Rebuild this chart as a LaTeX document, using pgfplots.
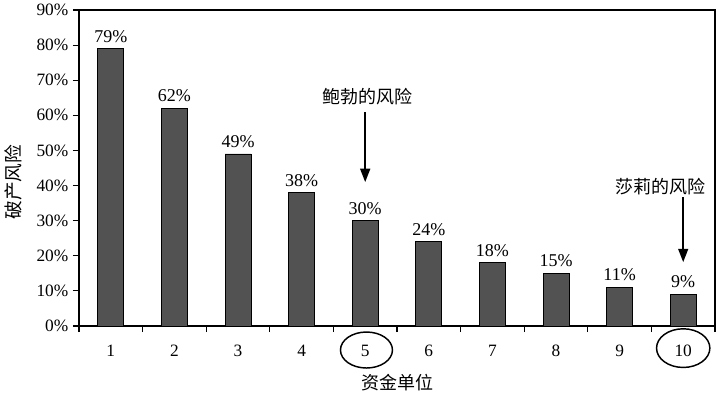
\documentclass[border=0pt]{standalone}
\usepackage{pgfplots}
\pgfplotsset{compat=1.18}
\usepackage{fontspec}
\setmainfont{Liberation Serif}
\newfontfamily\cjk{Noto Sans CJK SC}
\usetikzlibrary{arrows.meta}
\definecolor{barfill}{RGB}{82,82,82}
\begin{document}
\begin{tikzpicture}[x=1pt,y=1pt]
\path[use as bounding box] (-59.25pt,-53.25pt) rectangle (480.75pt,244.5pt);
\begin{axis}[
  at={(0,0)}, anchor=south west,
  scale only axis,
  width=477pt, height=237pt,
  xmin=0.5, xmax=10.5, ymin=0, ymax=90,
  axis line style={black, line width=0.8pt},
  xtick={1,...,10},
  major x tick style={draw=none},
  minor xtick={0.5,1.5,...,10.5},
  minor x tick style={black, line width=0.8pt},
  minor tick length=4.5pt,
  ytick={0,10,...,90},
  yticklabel={\pgfmathprintnumber{\tick}\%},
  y tick style={black, line width=0.8pt},
  major tick length=4.5pt,
  tick align=outside,
  xtick pos=bottom, ytick pos=left,
  tick label style={font=\fontsize{13}{15}\selectfont},
  /pgf/number format/assume math mode=true,
  xticklabel style={yshift=-6pt},
  clip=false,
]
\addplot[ybar, bar width=19.5pt, fill=barfill, draw=black, line width=0.6pt,
  nodes near coords={\pgfmathprintnumber{\pgfplotspointmeta}\%},
  nodes near coords style={font=\fontsize{13.5}{15}\selectfont, black, yshift=1pt},
  point meta=y]
coordinates {(1,79) (2,62) (3,49) (4,38) (5,30) (6,24) (7,18) (8,15) (9,11) (10,9)};
% annotations
\node[font=\cjk\fontsize{13.5}{15}\selectfont] at (axis cs:5.03,65.2) {鲍勃的风险};
\draw[line width=1.1pt, -{Triangle[width=7.5pt,length=10pt]}] (axis cs:5,60.9) -- (axis cs:5,41.0);
\node[font=\cjk\fontsize{13.5}{15}\selectfont] at (axis cs:9.65,39.6) {莎莉的风险};
\draw[line width=1.1pt, -{Triangle[width=7.5pt,length=10pt]}] (axis cs:10,36.7) -- (axis cs:10,18.2);
\draw[line width=1.1pt] (axis cs:5.02,-6.84) ellipse [x radius=19.5pt, y radius=13.5pt];
\draw[line width=1.1pt] (axis cs:10.0,-6.3) ellipse [x radius=20pt, y radius=14.5pt];
\end{axis}
\node[font=\cjk\fontsize{13.5}{15}\selectfont] at (238.5pt,-42.75pt) {资金单位};
\node[font=\cjk\fontsize{14}{15}\selectfont, rotate=90] at (-49.5pt,108pt) {破产风险};
\end{tikzpicture}
\end{document}
